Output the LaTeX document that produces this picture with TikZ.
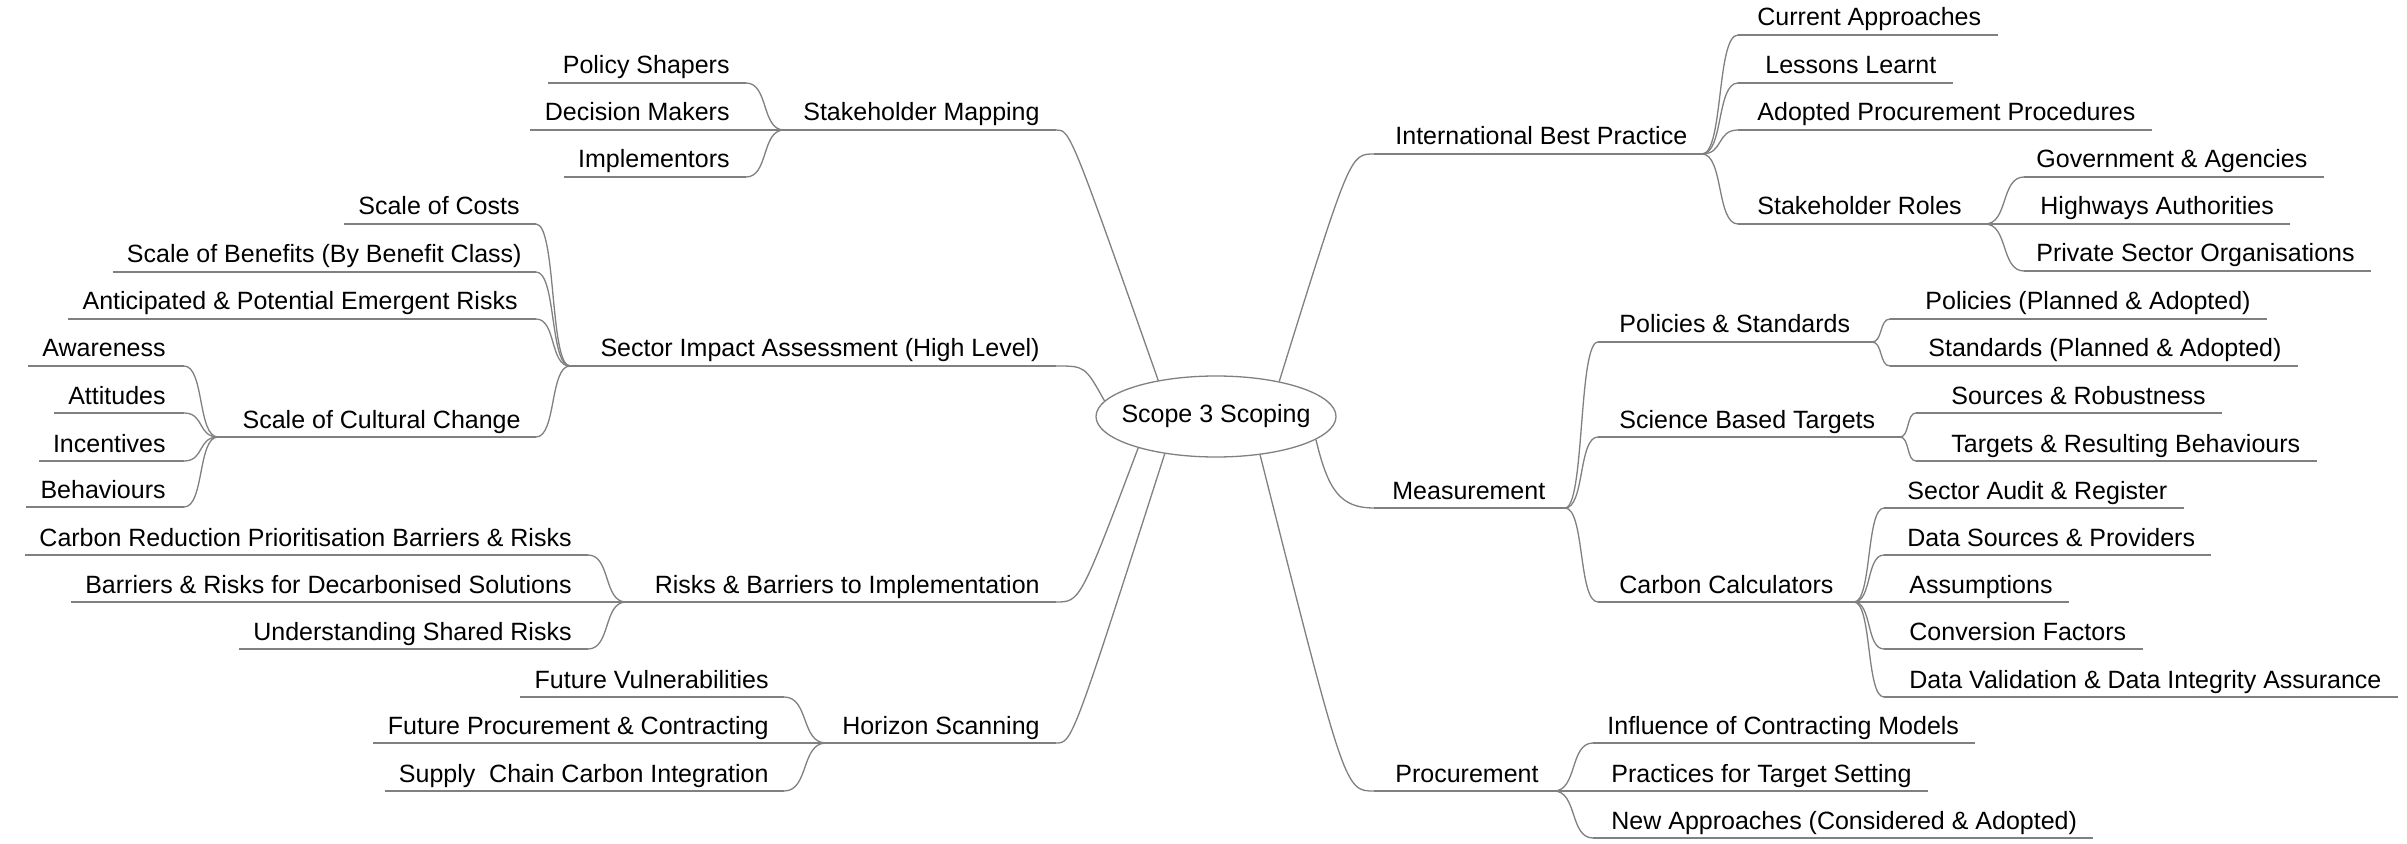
\documentclass[tikz,border=0pt]{standalone}
\usepackage{fontspec}
\setmainfont{Liberation Sans}
\usetikzlibrary{calc,shapes.geometric}
\definecolor{linegray}{RGB}{128,128,128}
\newcommand\topicfont{\fontsize{12.5pt}{15pt}\selectfont}
\tikzset{
  ln/.style={draw=linegray, line width=0.65pt},
  tl/.style={anchor=base east, inner sep=0pt, font=\topicfont},
  tr/.style={anchor=base west, inner sep=0pt, font=\topicfont},
  scurve/.style={to path={.. controls ($(\tikztostart)!0.6!(\tikztostart -| \tikztotarget)$) and ($(\tikztotarget)!0.6!(\tikztotarget -| \tikztostart)$) .. (\tikztotarget) \tikztonodes}}
}
\begin{document}
\begin{tikzpicture}[x=0.5pt,y=-0.5pt]
\path[fill=white,use as bounding box] (0,0) rectangle (2407,844);

% root
\node[ellipse, draw=linegray, line width=0.65pt, minimum width=120pt, minimum height=40.5pt, inner sep=0pt, font=\topicfont] (root) at (1216,416.5) {\makebox[0pt][c]{Scope 3 Scoping}};

% ---------------- LEFT SIDE ----------------
% Stakeholder Mapping
\node[tl] (sm) at (1040,121) {Stakeholder Mapping};
\coordinate (sm-j) at (784,130); \coordinate (sm-r) at (1056,130);
\draw[ln] (sm-j) -- (sm-r);
\node[tl] (ps) at (730,74) {Policy Shapers};   \coordinate (ps-r) at (746,83);
\node[tl] (dm) at (730,121) {Decision Makers}; \coordinate (dm-r) at (746,130);
\node[tl] (im) at (730,168) {Implementors};    \coordinate (im-r) at (746,177);
\foreach \n in {ps,dm,im}{
  \draw[ln] ($(\n.base west |- \n-r)+(-14,0)$) -- (\n-r);
  \draw[ln] (sm-j) to[scurve] (\n-r);
}

% Sector Impact Assessment
\node[tl] (si) at (1040,357) {Sector Impact Assessment (High Level)};
\coordinate (si-j) at (570,366); \coordinate (si-r) at (1056,366);
\draw[ln] (si-j) -- (si-r);
\node[tl] (sc) at (520,215) {Scale of Costs};                         \coordinate (sc-r) at (536,224);
\node[tl] (sb) at (522,263) {Scale of Benefits (By Benefit Class)};   \coordinate (sb-r) at (536,272);
\node[tl] (ar) at (518,310) {Anticipated \& Potential Emergent Risks}; \coordinate (ar-r) at (536,319);
\foreach \n in {sc,sb,ar}{
  \draw[ln] ($(\n.base west |- \n-r)+(-14,0)$) -- (\n-r);
  \draw[ln] (si-j) to[scurve] (\n-r);
}
\node[tl] (cc) at (521,428) {Scale of Cultural Change};
\coordinate (cc-j) at (218,437); \coordinate (cc-r) at (536,437);
\draw[ln] (cc-j) -- (cc-r);
\draw[ln] (si-j) to[scurve] (cc-r);
\node[tl] (aw) at (166,357) {Awareness};  \coordinate (aw-r) at (184,366);
\node[tl] (at) at (166,404) {Attitudes};  \coordinate (at-r) at (184,413);
\node[tl] (in) at (166,452) {Incentives}; \coordinate (in-r) at (184,461);
\node[tl] (be) at (166,498) {Behaviours}; \coordinate (be-r) at (184,507);
\foreach \n in {aw,at,in,be}{
  \draw[ln] ($(\n.base west |- \n-r)+(-14,0)$) -- (\n-r);
  \draw[ln] (cc-j) to[scurve] (\n-r);
}

% Risks & Barriers to Implementation
\node[tl] (rb) at (1040,593) {Risks \& Barriers to Implementation};
\coordinate (rb-j) at (626,602); \coordinate (rb-r) at (1056,602);
\draw[ln] (rb-j) -- (rb-r);
\node[tl] (cr) at (572,546) {Carbon Reduction Prioritisation Barriers \& Risks}; \coordinate (cr-r) at (588,555);
\node[tl] (bd) at (572,593) {Barriers \& Risks for Decarbonised Solutions};      \coordinate (bd-r) at (588,602);
\node[tl] (us) at (572,640) {Understanding Shared Risks};                         \coordinate (us-r) at (588,649);
\foreach \n in {cr,bd,us}{
  \draw[ln] ($(\n.base west |- \n-r)+(-14,0)$) -- (\n-r);
  \draw[ln] (rb-j) to[scurve] (\n-r);
}

% Horizon Scanning
\node[tl] (hs) at (1040,734) {Horizon Scanning};
\coordinate (hs-j) at (826,743); \coordinate (hs-r) at (1056,743);
\draw[ln] (hs-j) -- (hs-r);
\node[tl] (fv) at (769,688) {Future Vulnerabilities};               \coordinate (fv-r) at (784,697);
\node[tl] (fp) at (769,734) {Future Procurement \& Contracting};   \coordinate (fp-r) at (784,743);
\node[tl] (sp) at (769,782) {Supply\ \ Chain Carbon Integration};   \coordinate (sp-r) at (784,791);
\foreach \n in {fv,fp,sp}{
  \draw[ln] ($(\n.base west |- \n-r)+(-14,0)$) -- (\n-r);
  \draw[ln] (hs-j) to[scurve] (\n-r);
}

% ---------------- RIGHT SIDE ----------------
% International Best Practice
\node[tr] (ib) at (1395,145) {International Best Practice};
\coordinate (ib-l) at (1374,154); \coordinate (ib-j) at (1702,154);
\draw[ln] (ib-l) -- (ib-j);
\node[tr] (ca) at (1757,26)  {Current Approaches};             \coordinate (ca-l) at (1738,35);
\node[tr] (ll) at (1765,74)  {Lessons Learnt};                 \coordinate (ll-l) at (1738,83);
\node[tr] (ap) at (1757,121) {Adopted Procurement Procedures}; \coordinate (ap-l) at (1738,130);
\foreach \n in {ca,ll,ap}{
  \draw[ln] (\n-l) -- ($(\n.base east |- \n-l)+(16,0)$);
  \draw[ln] (ib-j) to[scurve] (\n-l);
}
\node[tr] (sr) at (1757,215) {Stakeholder Roles};
\coordinate (sr-l) at (1738,224); \coordinate (sr-j) at (1985,224);
\draw[ln] (sr-l) -- (sr-j);
\draw[ln] (ib-j) to[scurve] (sr-l);
\node[tr] (ga) at (2036,168) {Government \& Agencies};       \coordinate (ga-l) at (2024,177);
\node[tr] (ha) at (2040,215) {Highways Authorities};          \coordinate (ha-l) at (2024,224);
\node[tr] (po) at (2036,262) {Private Sector Organisations};  \coordinate (po-l) at (2024,271);
\foreach \n in {ga,ha,po}{
  \draw[ln] (\n-l) -- ($(\n.base east |- \n-l)+(16,0)$);
  \draw[ln] (sr-j) to[scurve] (\n-l);
}

% Measurement
\node[tr] (me) at (1392,499) {Measurement};
\coordinate (me-l) at (1374,508); \coordinate (me-j) at (1565,508);
\draw[ln] (me-l) -- (me-j);
% Policies & Standards
\node[tr] (pst) at (1619,333) {Policies \& Standards};
\coordinate (pst-l) at (1598,342); \coordinate (pst-j) at (1872,342);
\draw[ln] (pst-l) -- (pst-j);
\draw[ln] (me-j) to[scurve] (pst-l);
\node[tr] (pol) at (1925,310) {Policies (Planned \& Adopted)};  \coordinate (pol-l) at (1890,319);
\node[tr] (sta) at (1928,357) {Standards (Planned \& Adopted)}; \coordinate (sta-l) at (1890,366);
\foreach \n in {pol,sta}{
  \draw[ln] (\n-l) -- ($(\n.base east |- \n-l)+(16,0)$);
  \draw[ln] (pst-j) to[scurve] (\n-l);
}
% Science Based Targets
\node[tr] (sbt) at (1619,428) {Science Based Targets};
\coordinate (sbt-l) at (1598,437); \coordinate (sbt-j) at (1900,437);
\draw[ln] (sbt-l) -- (sbt-j);
\draw[ln] (me-j) to[scurve] (sbt-l);
\node[tr] (sor) at (1951,404) {Sources \& Robustness};            \coordinate (sor-l) at (1916,413);
\node[tr] (trb) at (1951,452) {Targets \& Resulting Behaviours};  \coordinate (trb-l) at (1916,461);
\foreach \n in {sor,trb}{
  \draw[ln] (\n-l) -- ($(\n.base east |- \n-l)+(16,0)$);
  \draw[ln] (sbt-j) to[scurve] (\n-l);
}
% Carbon Calculators
\node[tr] (cca) at (1619,593) {Carbon Calculators};
\coordinate (cca-l) at (1598,602); \coordinate (cca-j) at (1854,602);
\draw[ln] (cca-l) -- (cca-j);
\draw[ln] (me-j) to[scurve] (cca-l);
\node[tr] (sa) at (1907,499) {Sector Audit \& Register};                       \coordinate (sa-l) at (1884,508);
\node[tr] (ds) at (1907,546) {Data Sources \& Providers};                      \coordinate (ds-l) at (1884,555);
\node[tr] (as) at (1909,593) {Assumptions};                                    \coordinate (as-l) at (1884,602);
\node[tr] (cf) at (1909,640) {Conversion Factors};                             \coordinate (cf-l) at (1884,649);
\node[tr] (dv) at (1909,688) {Data Validation \& Data Integrity Assurance};    \coordinate (dv-l) at (1884,697);
\foreach \n in {sa,ds,as,cf,dv}{
  \draw[ln] (\n-l) -- ($(\n.base east |- \n-l)+(16,0)$);
  \draw[ln] (cca-j) to[scurve] (\n-l);
}

% Procurement
\node[tr] (pr) at (1395,782) {Procurement};
\coordinate (pr-l) at (1374,791); \coordinate (pr-j) at (1554,791);
\draw[ln] (pr-l) -- (pr-j);
\node[tr] (icm) at (1607,734) {Influence of Contracting Models};         \coordinate (icm-l) at (1593,743);
\node[tr] (pts) at (1611,782) {Practices for Target Setting};            \coordinate (pts-l) at (1593,791);
\node[tr] (na)  at (1611,829) {New Approaches (Considered \& Adopted)};  \coordinate (na-l) at (1593,838);
\foreach \n in {icm,pts,na}{
  \draw[ln] (\n-l) -- ($(\n.base east |- \n-l)+(16,0)$);
  \draw[ln] (pr-j) to[scurve] (\n-l);
}

% ---------------- MAIN BRANCHES ----------------
\draw[ln] (root.148.3) .. controls (1070,130) .. (sm-r);
\draw[ln] (root.172.7) .. controls (1085,366) .. (si-r);
\draw[ln] (root.202.7) .. controls (1080,602) .. (rb-r);
\draw[ln] (root.216.9) .. controls (1072,743) .. (hs-r);
\draw[ln] (root.29.1)  .. controls (1350,154) .. (ib-l);
\draw[ln] (root.347.3) .. controls (1328,490) and (1340,508) .. (me-l);
\draw[ln] (root.319.3) .. controls (1345,791) .. (pr-l);
\end{tikzpicture}
\end{document}
